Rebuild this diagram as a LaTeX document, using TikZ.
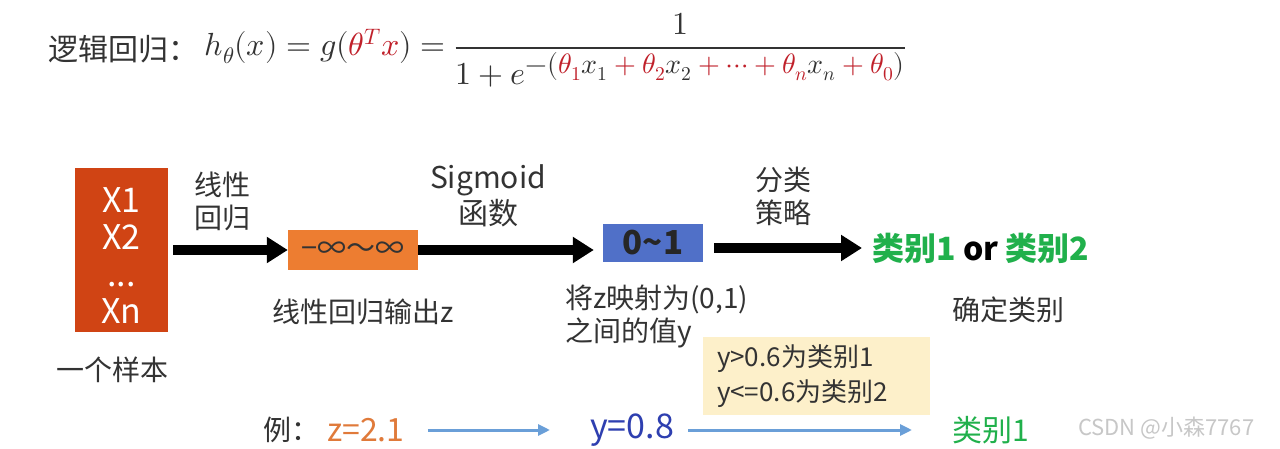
\documentclass[tikz,border=0pt]{standalone}
\usepackage{fontspec}
\usepackage{unicode-math}
\setmainfont{Noto Sans CJK SC}
\setmathfont{Latin Modern Math}
\usetikzlibrary{positioning,arrows.meta}
\definecolor{eqred}{HTML}{C0202A}
\definecolor{samplered}{HTML}{D04414}
\definecolor{linorange}{HTML}{ED7D31}
\definecolor{probblue}{HTML}{5070C8}
\definecolor{clsgreen}{HTML}{20B04B}
\definecolor{ruleyellow}{HTML}{FDF0CA}
\definecolor{zorange}{HTML}{E07A3A}
\definecolor{ydarkblue}{HTML}{2E3FB0}
\definecolor{thinblue}{HTML}{6A9FD8}
\definecolor{textgray}{HTML}{333333}
\newcommand{\rp}{\mathbin{\color{eqred}+}}
\newcommand{\rth}[1]{{\color{eqred}\theta_{#1}}}

\begin{document}
\begin{tikzpicture}[x=1pt, y=-1pt,
    lbl/.style={inner sep=0pt, text=textgray, align=center,
      font=\fontsize{28}{33}\selectfont},
    fillbox/.style={rectangle, inner sep=0pt, align=center},
    bigarr/.style={-{Triangle[length=21pt,width=25pt]}, line width=10pt},
    thinarr/.style={-{Triangle[length=12pt,width=11pt]}, line width=3pt, draw=thinblue}
  ]
    \fill[white] (0,0) rectangle (1280,449);
    \useasboundingbox (0,0) rectangle (1280,449);
    % formula
    \node[lbl, anchor=base west, font=\fontsize{30}{36}\selectfont] (title) at (48,61) {逻辑回归：};
    \node[inner sep=0pt, anchor=base west, text=textgray, font=\fontsize{32}{38}\selectfont] (formula)
      at ([xshift=6pt,yshift=5pt]title.base east)
      {$h_\theta(x) = g({\color{eqred}\theta^T x}) = \dfrac{1}{1+e^{\hbox{\fontsize{28}{32}\selectfont$-(\rth{1}x_1\rp\rth{2}x_2\rp{\color{eqred}\cdots}\rp\rth{n}x_n\rp\rth{0})$}}}$};
    % main chain
    \node[fillbox, fill=samplered, text=white, minimum width=93pt, minimum height=164pt,
      font=\fontsize{34}{37}\selectfont] (sample) at (121.5,250) {\rule{0pt}{36pt}X1\\X2\\...\\Xn};
    \node[lbl] (onesample) at (112,370) {一个样本};
    \node[fillbox, fill=linorange, text=textgray, minimum width=130pt, minimum height=40pt,
      font=\fontsize{29}{32}\selectfont] (lin) at (353,250) {−∞～∞};
    \node[lbl] (linout) at (363,312) {线性回归输出z};
    \node[fillbox, fill=probblue, text=black!85, minimum width=100pt, minimum height=38pt,
      font=\fontsize{33}{36}\selectfont\bfseries] (prob) at (653,243) {0\char`~1};
    \node[lbl, anchor=west, align=left] (mapping) at (565,316.5) {将z映射为(0,1)\\之间的值y};
    \node[lbl, anchor=west, text=black, font=\fontsize{32}{36}\selectfont\bfseries] (result) at (872,248)
      {\textcolor{clsgreen}{类别1} or \textcolor{clsgreen}{类别2}};
    \node[lbl] (decide) at (1008,310) {确定类别};
    \node[fillbox, fill=ruleyellow, text=textgray, minimum width=227pt, minimum height=78pt,
      text width=199pt, align=left, font=\fontsize{26}{35}\selectfont] (rule) at (816.5,376)
      {y>0.6为类别1\\y<=0.6为类别2};
    % arrow labels
    \node[lbl] (linreg) at (222,201) {线性\\回归};
    \node[lbl, font=\fontsize{30}{36}\selectfont] (sigmoid) at (488,196) {Sigmoid\\函数};
    \node[lbl] (strategy) at (783,196) {分类\\策略};
    \draw[bigarr, shorten <=5pt] (sample) -- (lin);
    \draw[bigarr, shorten >=9pt] (lin.east) -- (lin.east -| prob.west);
    \draw[bigarr, shorten <=11pt, shorten >=10pt] (result.west -| prob.east) -- (result.west);
    % example row
    \node[lbl, anchor=west] (ex) at (263,430) {例：};
    \node[lbl, anchor=west, text=zorange, font=\fontsize{32}{36}\selectfont] (zval) at (327,430) {z=2.1};
    \node[lbl, anchor=west, text=ydarkblue, font=\fontsize{34}{38}\selectfont] (yval) at (590,430) {y=0.8};
    \node[lbl, anchor=west, text=clsgreen, font=\fontsize{30}{36}\selectfont] (cls) at (952,430) {类别1};
    \node[lbl, anchor=west, text=black!22, font=\fontsize{22}{26}\selectfont] (mark) at (1078,428) {CSDN @小森7767};
    \draw[thinarr, shorten <=23pt, shorten >=40pt] (zval.east) -- (zval.east -| yval.west);
    \draw[thinarr, shorten <=14pt, shorten >=40pt] (yval.east) -- (yval.east -| cls.west);
  \end{tikzpicture}
\end{document}
